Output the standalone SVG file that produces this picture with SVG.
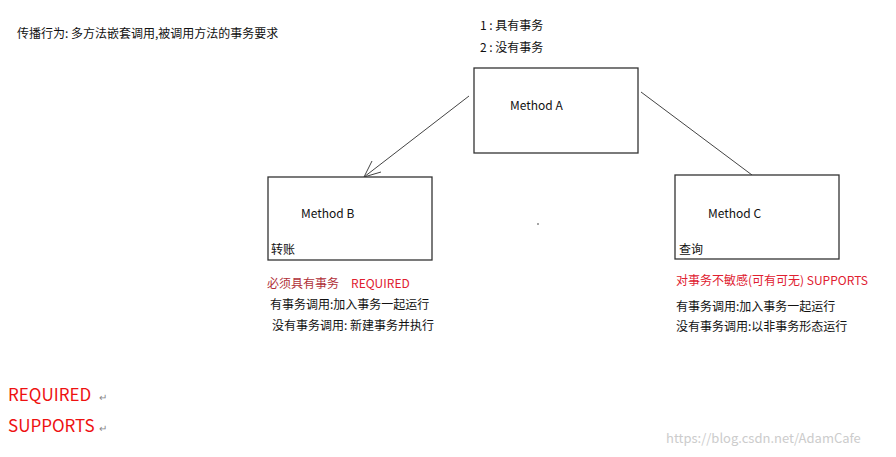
<svg xmlns="http://www.w3.org/2000/svg" width="896" height="457" viewBox="0 0 896 457">
<style>
text{font-family:"Noto Sans CJK SC","Noto Sans",sans-serif;font-size:12px;fill:#111}
.box{fill:#fff;stroke:#333;stroke-width:1.3}
.ln{stroke:#444;stroke-width:1;fill:none}
.r{fill:#e02030}
.dr{fill:#b03038}
.big{font-size:17px;fill:#ee1111}
</style>
<rect width="896" height="457" fill="#fff"/>
<text x="17" y="38">传播行为: 多方法嵌套调用,被调用方法的事务要求</text>
<text x="480" y="30">1 : 具有事务</text>
<text x="480" y="52">2 : 没有事务</text>
<g id="connectors">
<path class="ln" d="M469,96 L364,177 M364,177 L372,161 M364,177 L381,172"/>
<path class="ln" d="M641,92 L752,175"/>
</g>
<g id="methodA"><rect class="box" x="474" y="68" width="164" height="85"/><text x="510" y="110">Method A</text></g>
<g id="methodB"><rect class="box" x="268" y="177" width="164" height="83"/><text x="301" y="218">Method B</text><text x="271" y="254">转账</text></g>
<g id="methodC"><rect class="box" x="675" y="175" width="164" height="84"/><text x="708" y="218">Method C</text><text x="679" y="254">查询</text></g>
<circle cx="538" cy="224" r="0.8" fill="#333"/>
<text x="267" y="288"><tspan class="dr">必须具有事务</tspan><tspan class="r" dx="12">REQUIRED</tspan></text>
<text x="270" y="309">有事务调用:加入事务一起运行</text>
<text x="272" y="330">没有事务调用: 新建事务并执行</text>
<text x="676" y="285"><tspan class="r">对事务不敏感(可有可无)  SUPPORTS</tspan></text>
<text x="676" y="311">有事务调用:加入事务一起运行</text>
<text x="676" y="331">没有事务调用:以非事务形态运行</text>
<text class="big" x="8" y="401">REQUIRED</text><text x="99" y="401" style="font-size:10px;fill:#888">↵</text>
<text class="big" x="8" y="432">SUPPORTS</text><text x="99" y="432" style="font-size:10px;fill:#888">↵</text>
<text x="666" y="443" style="font-size:13px;fill:#ccc">https://blog.csdn.net/AdamCafe</text>
</svg>
